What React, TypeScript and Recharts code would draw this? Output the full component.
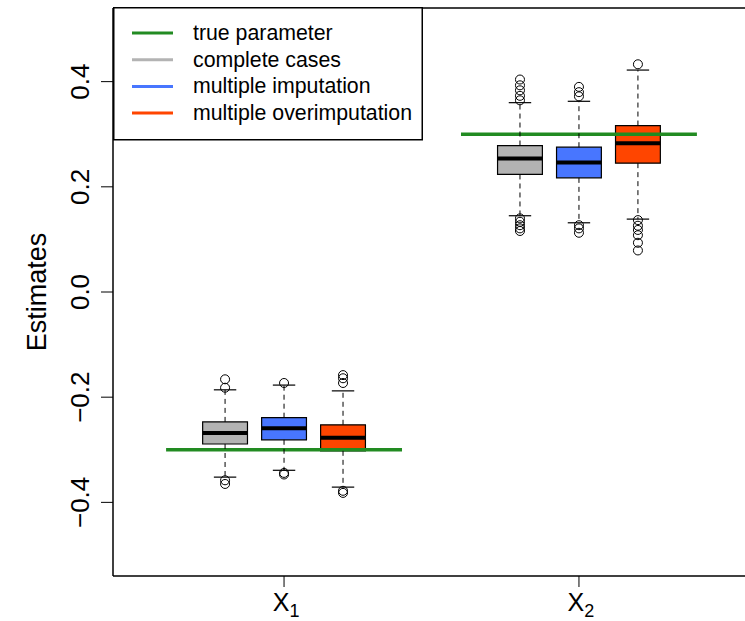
import React from 'react';
import { ComposedChart, XAxis, YAxis, ReferenceLine, ReferenceArea, Scatter, Legend } from 'recharts';

// ---- data ----
const groupLabels = ['X', 'X'];
const groupSubscripts = ['1', '2'];
const groupPositions = [2, 7];
const trueParams = [-0.3, 0.3];
const trueParamStart = [0, 5];
const trueParamEnd = [4, 9];

const legendNames = ['true parameter', 'complete cases', 'multiple imputation', 'multiple overimputation'];
const legendColors = ['#228B22', '#B3B3B3', '#4876FF', '#FF4500'];

const boxPositions = [1, 2, 3, 6, 7, 8];
const boxColors = ['#B3B3B3', '#4876FF', '#FF4500', '#B3B3B3', '#4876FF', '#FF4500'];
const lowerWhisker = [-0.352, -0.339, -0.371, 0.145, 0.1316, 0.1386];
const q1 = [-0.289, -0.281, -0.302, 0.2235, 0.217, 0.245];
const median = [-0.268, -0.259, -0.277, 0.254, 0.246, 0.283];
const q3 = [-0.247, -0.239, -0.2525, 0.2785, 0.2753, 0.3165];
const upperWhisker = [-0.186, -0.177, -0.188, 0.36, 0.3626, 0.422];
const outliers = [
  [-0.166, -0.182, -0.358, -0.365],
  [-0.173, -0.344, -0.347],
  [-0.158, -0.164, -0.173, -0.378, -0.382],
  [0.404, 0.393, 0.3835, 0.373, 0.3645, 0.14, 0.1335, 0.127, 0.121, 0.116],
  [0.39, 0.38, 0.372, 0.127, 0.121, 0.1126],
  [0.433, 0.1367, 0.126, 0.118, 0.108, 0.0936, 0.079],
];
const yTicks = [-0.4, -0.2, 0, 0.2, 0.4];

const FONT = '"Liberation Sans", Arial, Helvetica, sans-serif';
const BOX_HALF = 0.38;
const CAP_HALF = 0.19;

const outlierData = outliers.flatMap((arr, i) => arr.map((v) => ({ x: boxPositions[i], y: v })));

const fmtY = (v: number) => (v < 0 ? '\u2212' + Math.abs(v).toFixed(1) : v.toFixed(1));

const YTick = (props: any) => {
  const { x, y, payload } = props;
  const bx = x - 10;
  return (
    <text
      x={bx}
      y={y}
      transform={`rotate(-90, ${bx}, ${y})`}
      textAnchor="middle"
      fontSize={26}
      fontFamily={FONT}
      fill="#000"
    >
      {fmtY(payload.value)}
    </text>
  );
};

const XTick = (props: any) => {
  const { x, y, payload } = props;
  const idx = groupPositions.indexOf(payload.value);
  return (
    <text x={x + 2} y={y + 22} textAnchor="middle" fontSize={25} fontFamily={FONT} fill="#000">
      {groupLabels[idx]}
      <tspan fontSize={18} dy={6}>
        {groupSubscripts[idx]}
      </tspan>
    </text>
  );
};

const YLabel = (props: any) => {
  const vb = props.viewBox || { x: 0, y: 8, width: 113, height: 568 };
  const cx = vb.x + 46;
  const cy = vb.y + vb.height / 2;
  return (
    <text x={cx} y={cy} transform={`rotate(-90, ${cx}, ${cy})`} textAnchor="middle" fontSize={27} fontFamily={FONT} fill="#000">
      Estimates
    </text>
  );
};

const LegendBox = () => (
  <svg width={310} height={134} style={{ display: 'block' }}>
    <rect x={0.75} y={0.75} width={308.5} height={132} fill="#fff" stroke="#000" strokeWidth={1.5} />
    {legendNames.map((name, i) => {
      const cy = 26 + i * 26.7;
      return (
        <g key={name}>
          <line x1={19} x2={60} y1={cy} y2={cy} stroke={legendColors[i]} strokeWidth={3} />
          <text x={80} y={cy} dominantBaseline="central" fontSize={21.3} fontFamily={FONT} fill="#000">
            {name}
          </text>
        </g>
      );
    })}
  </svg>
);

export default function App() {
  return (
    <div style={{ position: 'absolute', left: 0, top: 0, width: 745, height: 621, overflow: 'hidden', background: '#fff' }}>
      <ComposedChart width={750} height={621} margin={{ top: 8, right: 0, bottom: 0, left: 0 }}>
        <XAxis
          type="number"
          dataKey="x"
          domain={[-0.9, 9.9]}
          ticks={groupPositions}
          interval={0}
          allowDataOverflow
          height={45}
          tickSize={11}
          tickLine={{ stroke: '#000', strokeWidth: 1 }}
          axisLine={{ stroke: '#000', strokeWidth: 1.5 }}
          tick={XTick}
        />
        <YAxis
          type="number"
          dataKey="y"
          domain={[-0.54, 0.54]}
          ticks={yTicks}
          interval={0}
          allowDataOverflow
          width={113}
          tickSize={12}
          tickLine={{ stroke: '#000', strokeWidth: 1 }}
          axisLine={{ stroke: '#000', strokeWidth: 1.5 }}
          tick={YTick}
          label={{ content: YLabel }}
        />
        <ReferenceLine y={0.54} stroke="#000" strokeWidth={1.5} ifOverflow="visible" />
        {trueParams.map((v, i) => (
          <ReferenceLine
            key={'tp' + i}
            segment={[
              { x: trueParamStart[i], y: v },
              { x: trueParamEnd[i], y: v },
            ]}
            stroke="#228B22"
            strokeWidth={3.5}
          />
        ))}
        {boxPositions.map((p, i) => (
          <ReferenceLine
            key={'wu' + i}
            segment={[
              { x: p, y: q3[i] },
              { x: p, y: upperWhisker[i] },
            ]}
            stroke="#000"
            strokeWidth={1}
            strokeDasharray="5 4"
          />
        ))}
        {boxPositions.map((p, i) => (
          <ReferenceLine
            key={'wl' + i}
            segment={[
              { x: p, y: q1[i] },
              { x: p, y: lowerWhisker[i] },
            ]}
            stroke="#000"
            strokeWidth={1}
            strokeDasharray="5 4"
          />
        ))}
        {boxPositions.map((p, i) => (
          <ReferenceLine
            key={'cu' + i}
            segment={[
              { x: p - CAP_HALF, y: upperWhisker[i] },
              { x: p + CAP_HALF, y: upperWhisker[i] },
            ]}
            stroke="#000"
            strokeWidth={1.2}
          />
        ))}
        {boxPositions.map((p, i) => (
          <ReferenceLine
            key={'cl' + i}
            segment={[
              { x: p - CAP_HALF, y: lowerWhisker[i] },
              { x: p + CAP_HALF, y: lowerWhisker[i] },
            ]}
            stroke="#000"
            strokeWidth={1.2}
          />
        ))}
        {boxPositions.map((p, i) => (
          <ReferenceArea
            key={'bx' + i}
            x1={p - BOX_HALF}
            x2={p + BOX_HALF}
            y1={q1[i]}
            y2={q3[i]}
            fill={boxColors[i]}
            fillOpacity={1}
            stroke="#000"
            strokeWidth={1.2}
          />
        ))}
        {boxPositions.map((p, i) => (
          <ReferenceLine
            key={'md' + i}
            segment={[
              { x: p - BOX_HALF, y: median[i] },
              { x: p + BOX_HALF, y: median[i] },
            ]}
            stroke="#000"
            strokeWidth={4}
          />
        ))}
        <Scatter
          data={outlierData}
          isAnimationActive={false}
          shape={(props: any) => <circle cx={props.cx} cy={props.cy} r={4.5} fill="none" stroke="#000" strokeWidth={1} />}
        />
        <Legend
          layout="horizontal"
          verticalAlign="middle"
          align="center"
          wrapperStyle={{ left: 113, top: 7, width: 310, height: 134, margin: 0, padding: 0 }}
          content={() => <LegendBox />}
        />
      </ComposedChart>
    </div>
  );
}
